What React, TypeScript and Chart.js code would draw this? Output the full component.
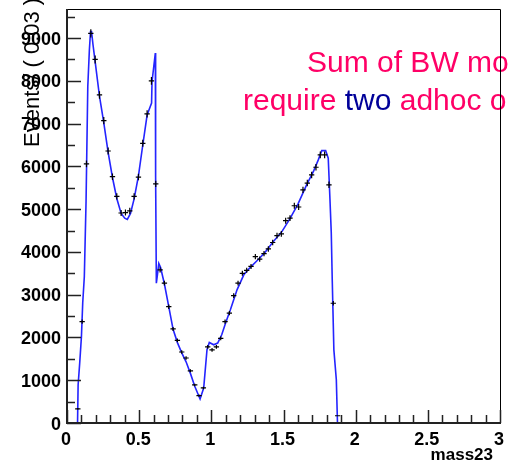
import React, { useEffect, useRef } from "react";
import { Chart, registerables } from "chart.js";

Chart.register(...registerables);

// ---- data ----
const binCenters = [
  0.075, 0.105, 0.135, 0.165, 0.195, 0.225, 0.255, 0.285, 0.315, 0.345,
  0.375, 0.405, 0.435, 0.465, 0.495, 0.525, 0.555, 0.585, 0.615, 0.645,
  0.675, 0.705, 0.735, 0.765, 0.795, 0.825, 0.855, 0.885, 0.915, 0.945,
  0.975, 1.005, 1.035, 1.065, 1.095, 1.125, 1.155, 1.185, 1.215, 1.245,
  1.275, 1.305, 1.335, 1.365, 1.395, 1.425, 1.455, 1.485, 1.515, 1.545,
  1.575, 1.605, 1.635, 1.665, 1.695, 1.725, 1.755, 1.785, 1.815, 1.845,
  1.875,
];
const counts = [
  330, 2370, 6060, 9110, 8500, 7670, 7070, 6360, 5760, 5300,
  4910, 4920, 4960, 5300, 5750, 6540, 7230, 8000, 5590, 3580,
  3270, 2720, 2200, 1930, 1660, 1520, 1220, 890, 640, 820,
  1780, 1710, 1780, 1980, 2370, 2570, 2980, 3270, 3500, 3570,
  3660, 3890, 3830, 3960, 4070, 4220, 4380, 4420, 4730, 4790,
  5080, 5050, 5450, 5610, 5800, 5980, 6270, 6270, 5570, 2800,
  170,
];
const binHalfWidth = 0.015;

const curveMass = [
  0.073, 0.077, 0.088, 0.1, 0.109, 0.12, 0.132, 0.144, 0.155, 0.163,
  0.17, 0.18, 0.195, 0.225, 0.255, 0.285, 0.315, 0.345, 0.375, 0.4,
  0.418, 0.44, 0.465, 0.495, 0.525, 0.555, 0.586, 0.589, 0.612, 0.614,
  0.619, 0.626, 0.636, 0.648, 0.675, 0.705, 0.735, 0.765, 0.795, 0.825,
  0.855, 0.885, 0.922, 0.947, 0.97, 0.986, 1.016, 1.044, 1.072, 1.1,
  1.132, 1.178, 1.225, 1.27, 1.318, 1.37, 1.43, 1.49, 1.545, 1.6,
  1.66, 1.71, 1.741, 1.765, 1.792, 1.81, 1.822, 1.831, 1.838, 1.849,
  1.866, 1.874,
];
const curveValue = [
  0, 890, 1400, 2020, 2810, 3420, 5180, 7860, 8720, 9150,
  9150, 8850, 8450, 7640, 7020, 6330, 5740, 5250, 4900, 4790,
  4760, 4900, 5240, 5780, 6500, 7200, 7480, 7980, 8650, 5760,
  3270, 3450, 3730, 3640, 3250, 2720, 2190, 1880, 1640, 1430,
  1160, 860, 560, 818, 1713, 1883, 1829, 1869, 2063, 2350,
  2647, 3114, 3465, 3640, 3800, 3980, 4243, 4480, 4780, 5120,
  5568, 5900, 6152, 6369, 6369, 6190, 5220, 4440, 3310, 1710,
  1010, 0,
];

const xMin = 0;
const xMax = 3;
const yMin = 0;
const yMax = 9680;
const xMajorTicks = [0, 0.5, 1, 1.5, 2, 2.5, 3];
const xTickLabels = ["0", "0.5", "1", "1.5", "2", "2.5", "3"];
const xMinorStep = 0.1;
const yMajorTicks = [0, 1000, 2000, 3000, 4000, 5000, 6000, 7000, 8000, 9000];
const yTickLabels = ["0", "1000", "2000", "3000", "4000", "5000", "6000", "7000", "8000", "9000"];
const yMinorStep = 500;
const xTitle = "mass23";
const yTitle = "Events/ ( 0.03 )";
const noteLine1 = "Sum of BW mo";
const noteLine2 = ["require ", "two", " adhoc o"];

const PINK = "#ff0066";
const NAVY = "#000099";
const CURVE = "#2424ff";
const AXIS = "#222222";
const FONT = '"Liberation Sans", Arial, Helvetica, sans-serif';

const rootStylePlugin = {
  id: "rootStyle",
  afterDatasetsDraw(chart: any) {
    const { ctx, chartArea: a, scales } = chart;
    const xs = scales.x;
    const ys = scales.y;
    ctx.save();

    // annotation text
    ctx.font = `30px ${FONT}`;
    ctx.textAlign = "left";
    ctx.textBaseline = "alphabetic";
    ctx.fillStyle = PINK;
    ctx.fillText(noteLine1, 307, 72);
    let tx = 243;
    const colors = [PINK, NAVY, PINK];
    noteLine2.forEach((seg, i) => {
      ctx.fillStyle = colors[i];
      ctx.fillText(seg, tx, 110);
      tx += ctx.measureText(seg).width;
    });

    // data points with error bars
    ctx.strokeStyle = "#000";
    ctx.lineWidth = 1.2;
    ctx.beginPath();
    binCenters.forEach((m, i) => {
      const v = counts[i];
      const err = Math.sqrt(v);
      const px = xs.getPixelForValue(m);
      const py = ys.getPixelForValue(v);
      ctx.moveTo(xs.getPixelForValue(m - binHalfWidth) - 0.5, py);
      ctx.lineTo(xs.getPixelForValue(m + binHalfWidth) + 0.5, py);
      ctx.moveTo(px, Math.min(ys.getPixelForValue(v - err), a.bottom));
      ctx.lineTo(px, ys.getPixelForValue(v + err));
    });
    ctx.stroke();

    // frame
    ctx.strokeStyle = "#000";
    ctx.lineWidth = 1;
    ctx.beginPath();
    ctx.moveTo(a.left, a.top + 0.5);
    ctx.lineTo(a.right + 0.5, a.top + 0.5);
    ctx.lineTo(a.right + 0.5, a.bottom);
    ctx.stroke();

    ctx.strokeStyle = AXIS;
    ctx.lineWidth = 2;
    ctx.beginPath();
    ctx.moveTo(a.left, a.top);
    ctx.lineTo(a.left, a.bottom);
    ctx.lineTo(a.right + 1, a.bottom);
    ctx.stroke();

    // ticks
    ctx.lineWidth = 1.5;
    ctx.beginPath();
    for (let v = yMin; v <= yMax + 1e-6; v += yMinorStep) {
      const py = Math.round(ys.getPixelForValue(v)) + 0.5;
      const major = Math.abs(v % 1000) < 1e-6;
      ctx.moveTo(a.left, py);
      ctx.lineTo(a.left + (major ? 14 : 8), py);
    }
    for (let k = 0; k <= Math.round((xMax - xMin) / xMinorStep); k++) {
      const v = xMin + k * xMinorStep;
      const px = Math.round(xs.getPixelForValue(v)) + 0.5;
      const major = k % 5 === 0;
      ctx.moveTo(px, a.bottom);
      ctx.lineTo(px, a.bottom - (major ? 13 : 8));
    }
    ctx.stroke();

    // tick labels
    ctx.fillStyle = "#000";
    ctx.font = `bold 18px ${FONT}`;
    ctx.textAlign = "right";
    ctx.textBaseline = "alphabetic";
    yMajorTicks.forEach((v, i) => {
      const py = ys.getPixelForValue(v);
      ctx.fillText(yTickLabels[i], a.left - 6, py + 6.5);
    });
    ctx.textAlign = "center";
    xMajorTicks.forEach((v, i) => {
      const px = xs.getPixelForValue(v);
      ctx.fillText(xTickLabels[i], px - 1, a.bottom + 22);
    });

    // axis titles
    ctx.font = `bold 17px ${FONT}`;
    ctx.textAlign = "right";
    ctx.fillText(xTitle, 493, 460);

    ctx.font = `22px ${FONT}`;
    ctx.textAlign = "left";
    ctx.translate(39, 147);
    ctx.rotate(-Math.PI / 2);
    ctx.fillText(yTitle, 0, 0);

    ctx.restore();
  },
};

export default function App() {
  const ref = useRef<HTMLCanvasElement>(null);
  useEffect(() => {
    if (!ref.current) return;
    const chart = new Chart(ref.current, {
      type: "scatter",
      data: {
        datasets: [
          {
            label: "fit",
            data: curveMass.map((m, i) => ({ x: m, y: curveValue[i] })),
            showLine: true,
            borderColor: CURVE,
            borderWidth: 1.6,
            pointRadius: 0,
            tension: 0,
          },
          {
            label: "data",
            data: binCenters.map((m, i) => ({ x: m, y: counts[i] })),
            showLine: false,
            pointRadius: 0,
          },
        ],
      },
      options: {
        responsive: false,
        animation: false,
        devicePixelRatio: 1,
        events: [],
        layout: { padding: { left: 67, right: 14, top: 9, bottom: 40 } },
        plugins: { legend: { display: false }, tooltip: { enabled: false } },
        scales: {
          x: { type: "linear", min: xMin, max: xMax, display: false },
          y: { type: "linear", min: yMin, max: yMax, display: false },
        },
      },
      plugins: [rootStylePlugin],
    });
    return () => chart.destroy();
  }, []);
  return (
    <div style={{ position: "fixed", left: 0, top: 0, width: 514, height: 463, background: "#fff" }}>
      <canvas ref={ref} width={514} height={463} style={{ display: "block" }} />
    </div>
  );
}
